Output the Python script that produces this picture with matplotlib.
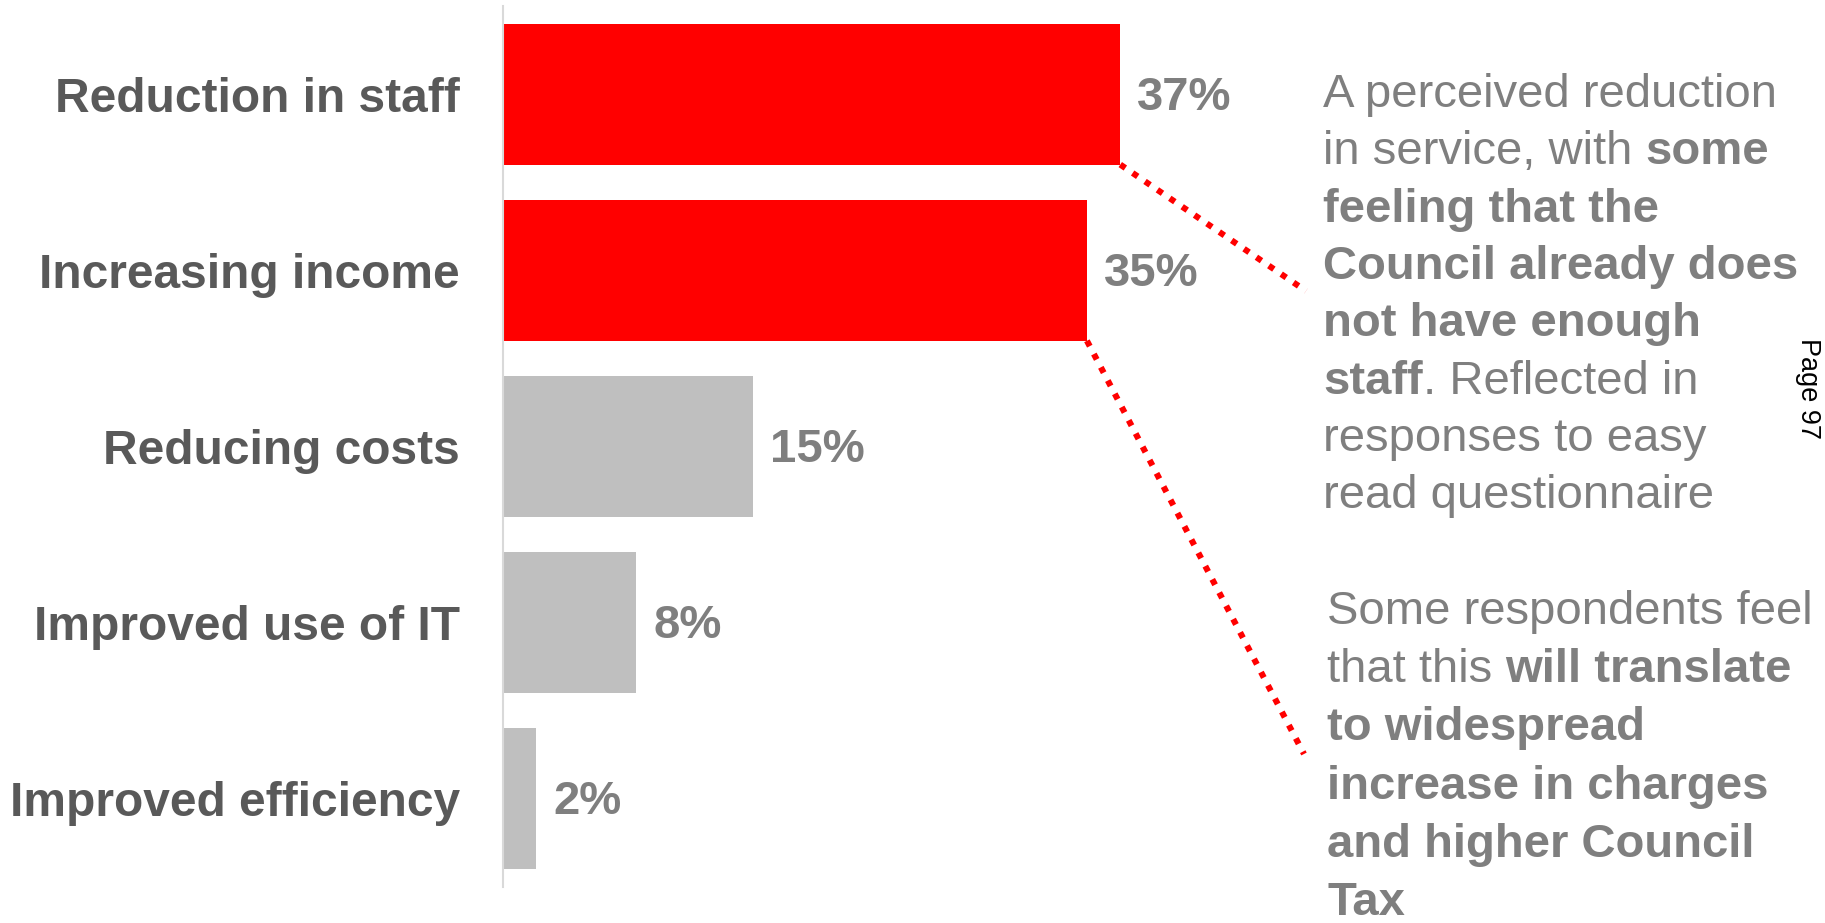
import matplotlib.pyplot as plt
from matplotlib.lines import Line2D

plt.rcParams['font.family'] = ['Liberation Sans', 'DejaVu Sans']

categories = ['Reduction in staff', 'Increasing income', 'Reducing costs',
              'Improved use of IT', 'Improved efficiency']
values = [37, 35, 15, 8, 2]
highlight = [True, True, False, False, False]

# (text, bold) pieces for each line of the two side notes
note_top = [
    [('A perceived reduction', False)],
    [('in service, with ', False), ('some', True)],
    [('feeling that the', True)],
    [('Council already does', True)],
    [('not have enough', True)],
    [('staff', True), ('. Reflected in', False)],
    [('responses to easy', False)],
    [('read questionnaire', False)],
]
note_bottom = [
    [('Some respondents feel', False)],
    [('that this ', False), ('will translate', True)],
    [('to widespread', True)],
    [('increase in charges', True)],
    [('and higher Council', True)],
    [('Tax', True)],
]

W, H = 1825, 923
fig = plt.figure(figsize=(W / 100, H / 100), dpi=100)
ax = fig.add_axes([503 / W, 36 / H, 1001 / W, 881 / H])

ypos = list(range(len(categories)))
colors = ['#FF0000' if h else '#BFBFBF' for h in highlight]
ax.barh(ypos, values, height=0.8, color=colors)
ax.set_ylim(len(categories) - 0.5, -0.5)
ax.set_xlim(0, 60)
ax.set_yticks(ypos)
ax.set_yticklabels(categories, fontsize=34.5, fontweight='bold', color='#595959')
ax.tick_params(axis='y', length=0, pad=31)
ax.set_xticks([])
for s in ['top', 'right', 'bottom']:
    ax.spines[s].set_visible(False)
ax.spines['left'].set_color('#D9D9D9')
ax.spines['left'].set_linewidth(1.5)

for i, v in enumerate(values):
    ax.annotate(f'{v}%', (v, i), xytext=(12, -2.5), textcoords='offset points',
                va='center', ha='left', fontsize=34, fontweight='bold',
                color='#7F7F7F')

# dotted red leaders from the two red bars to the notes
to_fig = ax.transData + fig.transFigure.inverted()
for i, end in [(0, (1306, 291)), (1, (1304, 754))]:
    x0, y0 = to_fig.transform((values[i], i + 0.4))
    line = Line2D([x0, end[0] / W], [y0, 1 - end[1] / H], transform=fig.transFigure,
                  color='#FF0000', lw=4.4, linestyle=(0, (1, 1.45)),
                  dash_capstyle='butt')
    fig.add_artist(line)

renderer = fig.canvas.get_renderer()


def space_width(weight):
    a = fig.text(0, 0, 'x x', fontsize=34, fontweight=weight)
    b = fig.text(0, 0, 'xx', fontsize=34, fontweight=weight)
    w = a.get_window_extent(renderer).width - b.get_window_extent(renderer).width
    a.remove()
    b.remove()
    return w


def draw_note(lines, x, y0, step):
    for k, parts in enumerate(lines):
        xx = x
        yy = y0 + k * step
        for text, bold in parts:
            weight = 'bold' if bold else 'normal'
            t = fig.text(xx / W, 1 - yy / H, text.rstrip(), fontsize=34,
                         fontweight=weight, color='#7F7F7F', va='center', ha='left')
            xx = t.get_window_extent(renderer).x1
            if text.endswith(' '):
                xx += space_width(weight)


draw_note(note_top, 1323, 95, 57.3)
draw_note(note_bottom, 1327, 612, 58.2)

fig.text(1808 / W, 1 - 389 / H, 'Page 97', rotation=-90, fontsize=19.5,
         color='black', ha='center', va='center')

fig.savefig('out.png', dpi=100)
